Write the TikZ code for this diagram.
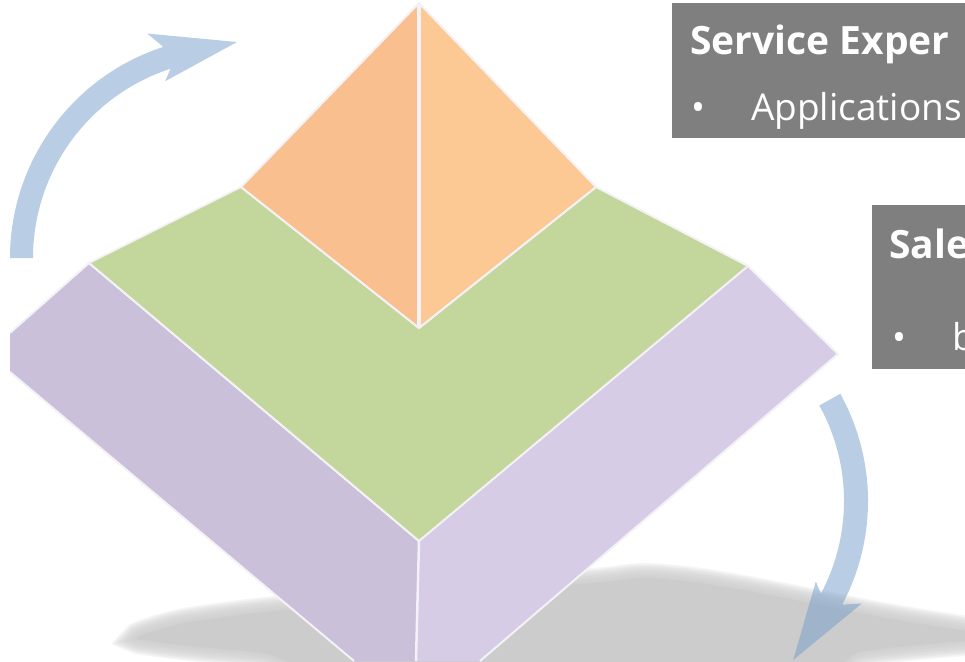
\documentclass[tikz,border=0pt]{standalone}
\usepackage{fontspec}
\setmainfont{Open Sans}
\usetikzlibrary{calc}
\definecolor{orL}{HTML}{F9BF8F}
\definecolor{orR}{HTML}{FCC995}
\definecolor{grn}{HTML}{C3D69B}
\definecolor{puL}{HTML}{CAC0DA}
\definecolor{puR}{HTML}{D6CCE5}
\definecolor{boxg}{HTML}{7F7F7F}
\definecolor{shad}{HTML}{CCCCCC}
\definecolor{arrb}{HTML}{739BC9}
\definecolor{edgec}{HTML}{F4F2F6}
\begin{document}
\begin{tikzpicture}[x=1pt,y=1pt,
  face/.style={draw=edgec, line width=2pt, line join=round},
  arrowc/.style={fill=arrb, fill opacity=0.5},
  boxc/.style={fill=boxg},
  ttl/.style={anchor=base west, inner sep=0pt, text=white, font=\bfseries\fontsize{39}{46}\selectfont},
  txt/.style={anchor=base west, inner sep=0pt, text=white, font=\fontsize{37}{44}\selectfont}]
\useasboundingbox (0,0) rectangle (965,-661);
\clip (0,0) rectangle (965,-661);
\def\shadowpath{plot[smooth cycle, tension=0.55] coordinates {(138,-637) (180,-624) (240,-615) (330,-605) (450,-592) (593,-583) (643,-578) (693,-582) (743,-590) (800,-601) (860,-613) (910,-622) (960,-630) (995,-638) (940,-643) (860,-652) (820,-668) (600,-690) (330,-672) (267,-654) (200,-647) (150,-641)}}
% shadow with soft edge
\foreach \w in {3,6,...,30} {\draw[draw=shad, line width=\w pt, draw opacity=0.2] \shadowpath;}
\fill[shad] \shadowpath;
% box faces
\coordinate (gA) at (241,-187);
\coordinate (gB) at (89,-263);
\coordinate (gC) at (419,-541);
\coordinate (gD) at (748,-266);
\coordinate (gE) at (596,-187);
\coordinate (gF) at (419,-328);
\coordinate (apex) at (419,-3);
\coordinate (pL1) at (10,-333);
\coordinate (pL2) at (10,-372);
\coordinate (pL3) at (354,-661);
\coordinate (pM) at (416,-661);
\coordinate (pR1) at (838,-354);
\coordinate (pR2) at (480,-661);
\fill[puL] (gB) -- (gC) -- (pM) -- (pL3) -- (pL2) -- (pL1) -- cycle;
\draw[face] (pL1) -- (gB) -- (gC) (pL2) -- (pL3);
\fill[puR] (gC) -- (gD) -- (pR1) -- (pR2) -- (pM) -- cycle;
\draw[face] (gD) -- (pR1) -- (pR2);
\draw[face, line width=2.5pt] (gC) -- (pM);
\filldraw[face, fill=grn] (gA) -- (gB) -- (gC) -- (gD) -- (gE) -- (gF) -- cycle;
\filldraw[face, fill=orL] (apex) -- (gA) -- (gF) -- cycle;
\filldraw[face, fill=orR] (apex) -- (gE) -- (gF) -- cycle;
\draw[edgec, line width=4pt] (apex) -- (gF);
% arrows
\coordinate (C1) at (232,-258);
\fill[arrowc] ($(C1)+(180:222)$) arc[start angle=180, end angle=108, radius=222]
  -- ($(C1)+(110.7:240)$) -- ($(C1)+(88.7:216)$) -- ($(C1)+(110.7:189)$)
  -- ($(C1)+(108:199)$) arc[start angle=108, end angle=180, radius=199] -- cycle;
\coordinate (C2) at (647,-501);
\fill[arrowc] ($(C2)+(29:221)$) arc[start angle=29, end angle=-28, radius=221]
  -- ($(C2)+(-25.5:238)$) -- ($(C2)+(-47.4:216)$) -- ($(C2)+(-25.5:187)$)
  -- ($(C2)+(-28:197)$) arc[start angle=-28, end angle=29, radius=197] -- cycle;
% text boxes
\fill[boxc] (672,-3) rectangle (975,-138);
\node[ttl] (t1) at (690,-55) {Service Exper};
\node[txt] (b1) at (691,-120) {•};
\node[txt] (a1) at (751,-120) {Applications};
\fill[boxc] (872,-205) rectangle (975,-369);
\node[ttl] (t2) at (889,-258) {Sale};
\node[txt] (b2) at (892,-350) {•};
\node[txt] (a2) at (952,-350) {b};
\end{tikzpicture}
\end{document}
